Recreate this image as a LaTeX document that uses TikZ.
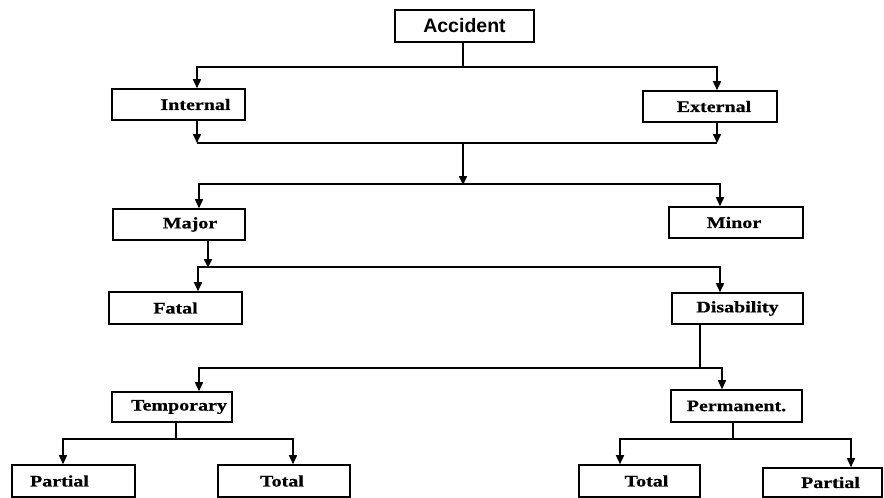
\documentclass[tikz,border=0pt]{standalone}
\usepackage{fontspec}
\usetikzlibrary{arrows.meta}
\newfontfamily\accfont{Liberation Sans}
\newfontfamily\labfont[FakeStretch=1.25,FakeBold=0.6]{Liberation Serif}
\begin{document}
\begin{tikzpicture}[x=1pt,y=-1pt,
  box/.style={draw, line width=1.6pt, inner sep=0pt, minimum width=132pt, minimum height=31pt,
    font=\labfont\bfseries\fontsize{16}{17}\selectfont},
  wire/.style={line width=1.6pt},
  arr/.style={wire, -{Triangle[length=9pt,width=8pt]}}]
\useasboundingbox (0,0) rectangle (884,498);
% boxes
\node[box, minimum width=139pt, minimum height=32pt, font=\accfont\bfseries\fontsize{19.5}{20}\selectfont] (acc) at (464.5,26) {Accident};
\node[box, minimum width=133pt] (int) at (178.5,104.5) {\hspace*{34pt}Internal};
\node[box, minimum width=134pt] (ext) at (710,106.5) {\hspace*{8pt}External};
\node[box] (maj) at (179,224.5) {\hspace*{22pt}Major};
\node[box, minimum width=134pt] (min) at (736,222.5) {Minor\hspace*{4pt}};
\node[box, minimum width=133pt, minimum height=32pt] (fat) at (175.5,308) {Fatal};
\node[box, minimum width=131pt] (dis) at (737.5,308.5) {Disability};
\node[box, minimum width=120pt, minimum height=30pt] (tem) at (172,407) {\hspace*{14pt}Temporary};
\node[box, minimum width=131pt, minimum height=32pt] (per) at (736.5,406) {Permanent.};
\node[box, minimum width=123pt, minimum height=32pt] (pl) at (73.5,481) {Partial\hspace*{28pt}};
\node[box, minimum width=132pt, minimum height=32pt] (tl) at (284,481) {Total\hspace*{4pt}};
\node[box, minimum width=121pt, minimum height=32pt] (tr) at (639.5,481) {\hspace*{14pt}Total};
\node[box, minimum width=119pt, minimum height=29pt] (pr) at (822.5,482.5) {\hspace*{16pt}Partial};
% junction points
\coordinate (j1) at (463,67);
\coordinate (j2) at (463,143);
\coordinate (j3) at (463,184);
\coordinate (j4) at (208,267);
\coordinate (j5) at (700,368);
\coordinate (j6) at (176,439);
\coordinate (j7) at (733,439);
% Accident -> Internal / External
\draw[wire] (acc.south -| j1) -- (j1);
\draw[arr] (j1) -| ([xshift=18.5pt]int.north);
\draw[arr] (j1) -| ([xshift=7pt]ext.north);
% Internal / External -> merge
\draw[arr] ([xshift=18.5pt]int.south) -- ([xshift=18.5pt]int.south |- j2);
\draw[arr] ([xshift=7pt]ext.south) -- ([xshift=7pt]ext.south |- j2);
\draw[wire] ([xshift=18.5pt]int.south |- j2) -- ([xshift=7pt]ext.south |- j2);
\draw[arr] (j2) -- ([yshift=-1pt]j3);
% -> Major / Minor
\draw[arr] (j3) -| ([xshift=20pt]maj.north);
\draw[arr] (j3) -| ([xshift=-16pt]min.north);
% Major -> Fatal / Disability
\draw[arr] ([xshift=29pt]maj.south) -- ([yshift=-1pt]j4);
\draw[arr] (j4) -| ([xshift=22.5pt]fat.north);
\draw[arr] (j4) -| ([xshift=-17.5pt]dis.north);
% Disability -> Temporary / Permanent
\draw[wire] (dis.south -| j5) -- (j5);
\draw[arr] (j5) -| ([xshift=27pt]tem.north);
\draw[arr] (j5) -| ([xshift=-14.5pt]per.north);
% Temporary -> Partial / Total
\draw[wire] (tem.south -| j6) -- (j6);
\draw[arr] (j6) -| ([xshift=-10.5pt]pl.north);
\draw[arr] (j6) -| ([xshift=9pt]tl.north);
% Permanent -> Total / Partial
\draw[wire] (per.south -| j7) -- (j7);
\draw[arr] (j7) -| ([xshift=-19.5pt]tr.north);
\draw[arr] (j7) -| ([xshift=28.5pt]pr.north);
\end{tikzpicture}
\end{document}
